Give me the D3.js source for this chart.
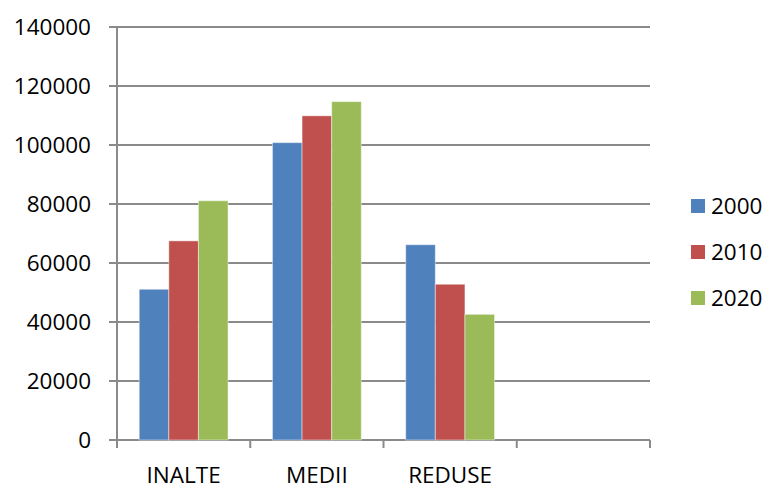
<!DOCTYPE html>
<html><head><meta charset="utf-8">
<script src="https://cdn.jsdelivr.net/npm/d3@7"></script>
<style>
html,body{margin:0;padding:0;background:#fff;}
svg{display:block;font-family:"Open Sans",Carlito,Calibri,Lato,sans-serif;}
</style></head>
<body>
<svg id="chart" width="763" height="484"></svg>
<script>
const categories = ["INALTE", "MEDII", "REDUSE", ""];
const seriesNames = ["2000", "2010", "2020"];
const values2000 = [51100, 100800, 66200, null];
const values2010 = [67500, 109900, 52800, null];
const values2020 = [81100, 114700, 42600, null];
const colors = ["#4F81BD", "#C0504D", "#9BBB59"];
const yTicks = [0, 20000, 40000, 60000, 80000, 100000, 120000, 140000];

(function () {
const series = [values2000, values2010, values2020];
const svg = d3.select("#chart");
const mLeft = 117, mRight = 650, mTop = 27, mBottom = 440;
const fs = 22.5;

const x = d3.scaleBand().domain(d3.range(categories.length)).range([mLeft, mRight]).paddingInner(0).paddingOuter(0);
const bw = x.bandwidth() / 4.5;
const y = d3.scaleLinear().domain([0, 140000]).range([mBottom, mTop]);

// gridlines
svg.append("g").selectAll("line").data(yTicks).join("line")
  .attr("x1", mLeft - 8).attr("x2", mRight)
  .attr("y1", d => y(d)).attr("y2", d => y(d))
  .attr("stroke", "#8a8a8a").attr("stroke-width", 2);

// y axis line
svg.append("line").attr("x1", mLeft).attr("x2", mLeft).attr("y1", mTop).attr("y2", mBottom)
  .attr("stroke", "#8a8a8a").attr("stroke-width", 2);

// y labels
svg.append("g").selectAll("text").data(yTicks).join("text")
  .attr("x", 91).attr("y", d => y(d)).attr("dy", "0.35em")
  .attr("text-anchor", "end").attr("font-size", fs).attr("fill", "#000")
  .text(d => d);

// x ticks
const xTickPos = d3.range(categories.length + 1).map(i => mLeft + i * x.step());
svg.append("g").selectAll("line").data(xTickPos).join("line")
  .attr("x1", d => d).attr("x2", d => d).attr("y1", mBottom).attr("y2", mBottom + 8)
  .attr("stroke", "#8a8a8a").attr("stroke-width", 2);

// bars
series.forEach((vals, si) => {
  svg.append("g").selectAll("rect").data(vals.map((v, i) => ({v, i})).filter(d => d.v != null)).join("rect")
    .attr("x", d => x(d.i) + 0.75 * bw + si * bw)
    .attr("width", bw)
    .attr("y", d => y(d.v))
    .attr("height", d => mBottom - y(d.v))
    .attr("fill", colors[si])
    .attr("stroke", "rgba(255,255,255,0.45)").attr("stroke-width", 1);
});

// category labels
svg.append("g").selectAll("text").data(categories).join("text")
  .attr("x", (d, i) => x(i) + x.bandwidth() / 2).attr("y", 482.5)
  .attr("text-anchor", "middle").attr("font-size", fs).attr("fill", "#000")
  .text(d => d);

// legend
const lg = svg.append("g");
seriesNames.forEach((n, i) => {
  const cy = 206 + i * 46;
  lg.append("rect").attr("x", 691).attr("y", cy - 7).attr("width", 14).attr("height", 14).attr("fill", colors[i]);
  lg.append("text").attr("x", 711).attr("y", cy).attr("dy", "0.35em")
    .attr("font-size", fs).attr("fill", "#000").text(n);
});
})();
</script>
</body></html>
